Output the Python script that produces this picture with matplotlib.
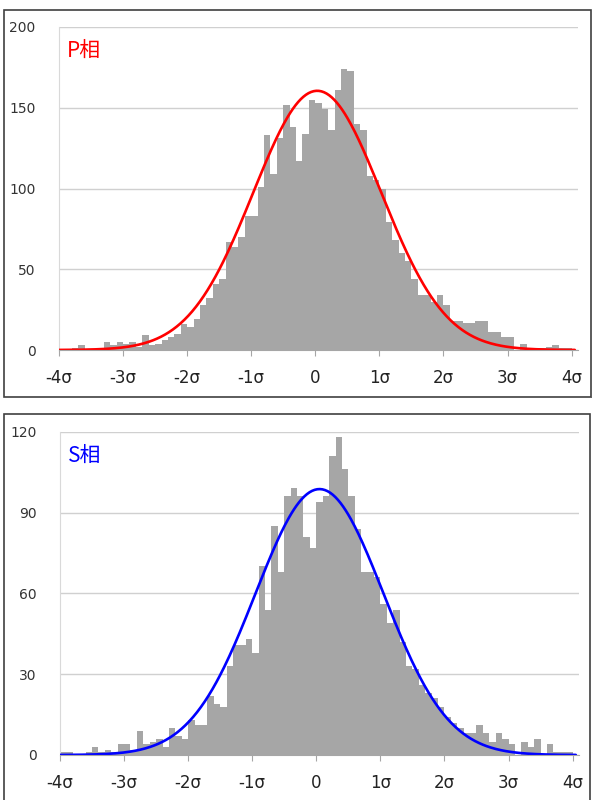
import numpy as np
import matplotlib.pyplot as plt
from matplotlib.patches import Rectangle

plt.rcParams['font.family'] = ['DejaVu Sans', 'Noto Sans CJK JP']

# histogram counts per 0.1 sigma bin, from -4.0 to 4.0
p_counts = [0, 0, 1, 3, 0, 0, 0, 5, 3, 5,
            4, 5, 2, 9, 3, 4, 6, 8, 10, 16,
            14, 19, 28, 32, 41, 44, 67, 64, 70, 83,
            83, 101, 133, 109, 131, 152, 138, 117, 134, 155,
            153, 149, 136, 161, 174, 173, 140, 136, 108, 105,
            100, 79, 68, 60, 55, 44, 34, 34, 30, 34,
            28, 18, 18, 17, 17, 18, 18, 11, 11, 8,
            8, 0, 4, 1, 1, 1, 2, 3, 1, 1]
s_counts = [1, 1, 0, 0, 1, 3, 1, 2, 1, 4,
            4, 2, 9, 4, 5, 6, 3, 10, 7, 6,
            13, 11, 11, 22, 19, 18, 33, 41, 41, 43,
            38, 70, 54, 85, 68, 96, 99, 96, 81, 77,
            94, 96, 111, 118, 106, 96, 84, 68, 68, 66,
            56, 49, 54, 42, 33, 32, 26, 23, 21, 18,
            14, 12, 10, 8, 8, 11, 8, 5, 8, 6,
            4, 0, 5, 3, 6, 0, 4, 1, 1, 1]

sigma_ticks = [-4, -3, -2, -1, 0, 1, 2, 3, 4]
sigma_labels = ['-4σ', '-3σ', '-2σ', '-1σ', '0', '1σ', '2σ', '3σ', '4σ']
p_yticks = [0, 50, 100, 150, 200]
s_yticks = [0, 30, 60, 90, 120]

# fitted normal curve (peak height, mean in sigma units)
p_fit = (160.5, 0.03)
s_fit = (98.7, 0.05)

bin_left = np.arange(-40, 40) / 10


def draw(ax, counts, yticks, fit, color, label):
    ax.bar(bin_left, counts, width=0.1, align='edge', color='#a6a6a6',
           linewidth=0, zorder=2)
    xs = np.linspace(-4, 4.05, 400)
    peak, mu = fit
    ax.plot(xs, peak * np.exp(-0.5 * (xs - mu) ** 2), color=color, lw=1.9,
            zorder=3, solid_capstyle='round')
    ax.set_xlim(-4, 4.1)
    ax.set_ylim(0, yticks[-1])
    ax.set_yticks(yticks)
    ax.set_xticks(sigma_ticks)
    ax.set_xticklabels(sigma_labels)
    ax.grid(axis='y', color='#d0d0d0', lw=1, zorder=0)
    for s in ['top', 'right']:
        ax.spines[s].set_visible(False)
    ax.spines['left'].set_color('#d9d9d9')
    ax.spines['bottom'].set_color('#a6a6a6')
    ax.spines['bottom'].set_zorder(4)
    ax.tick_params(axis='y', length=0, pad=17, labelsize=10, labelcolor='#333333')
    ax.tick_params(axis='x', length=4, color='#a6a6a6', pad=10, labelsize=12,
                   labelcolor='#222222')
    ax.text(0.016, 0.96, label, transform=ax.transAxes, color=color,
            fontsize=15, va='top', ha='left',
            family=['Noto Sans CJK JP', 'DejaVu Sans'])


fig = plt.figure(figsize=(5.92, 8), dpi=100)
ax1 = fig.add_axes([59 / 592, 1 - 350 / 800, 519 / 592, 323 / 800])
ax2 = fig.add_axes([60 / 592, 1 - 755 / 800, 519 / 592, 323.3 / 800])

draw(ax1, p_counts, p_yticks, p_fit, '#ff0000', 'P相')
draw(ax2, s_counts, s_yticks, s_fit, '#0000ff', 'S相')

# chart frames
fig.add_artist(Rectangle((4 / 592, 1 - 397 / 800), 587 / 592, 387 / 800,
                         transform=fig.transFigure, fill=False,
                         ec='#404040', lw=1.2))
fig.add_artist(Rectangle((4 / 592, 1 - 398.5 / 800), 588 / 592, 2 / 800,
                         transform=fig.transFigure, fill=True,
                         fc='#606060', ec='none'))
fig.add_artist(Rectangle((4 / 592, -0.02), 0.99, 1.02 - 414 / 800,
                         transform=fig.transFigure, fill=False,
                         ec='#404040', lw=1.2))

fig.savefig('out.png', dpi=100)
